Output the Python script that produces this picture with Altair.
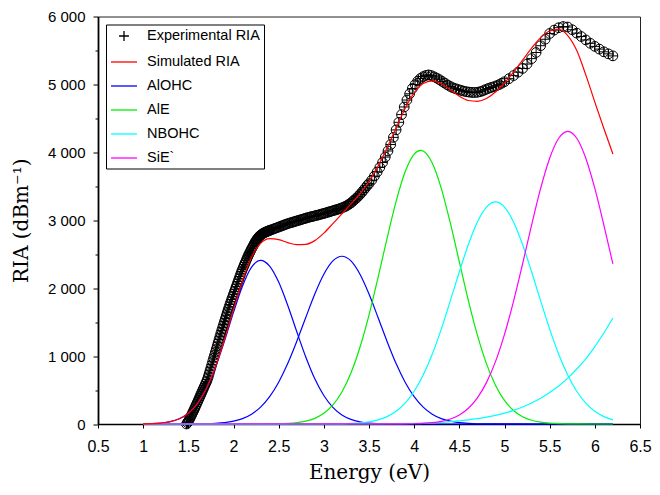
import altair as alt
import pandas as pd

# ---------------- data ----------------
exp_E = [1.48, 1.49, 1.50, 1.51, 1.52, 1.53, 1.54, 1.55, 1.56, 1.57, 1.58, 1.59,
         1.60, 1.61, 1.62, 1.63, 1.64, 1.65, 1.66, 1.67, 1.68, 1.69, 1.70, 1.71,
         1.72, 1.73, 1.74, 1.75, 1.76, 1.77, 1.78, 1.79, 1.80, 1.81, 1.82, 1.83,
         1.84, 1.85, 1.86, 1.87, 1.88, 1.89, 1.90, 1.91, 1.92, 1.93, 1.94, 1.95,
         1.96, 1.97, 1.98, 1.99, 2.00, 2.01, 2.02, 2.03, 2.04, 2.05, 2.06, 2.07,
         2.08, 2.09, 2.10, 2.11, 2.12, 2.13, 2.14, 2.15, 2.16, 2.17, 2.18, 2.19,
         2.20, 2.21, 2.22, 2.23, 2.24, 2.25, 2.26, 2.27, 2.28, 2.29, 2.30, 2.31,
         2.32, 2.33, 2.34, 2.35, 2.36, 2.37, 2.38, 2.39, 2.40,
         2.42, 2.44, 2.46, 2.48, 2.50, 2.52, 2.54, 2.56, 2.58, 2.60, 2.62, 2.64,
         2.66, 2.68, 2.70, 2.72, 2.74, 2.76, 2.78, 2.80, 2.82, 2.84, 2.86, 2.88,
         2.90, 2.92, 2.94, 2.96, 2.98, 3.00, 3.02, 3.04, 3.06, 3.08, 3.10, 3.12,
         3.14, 3.16, 3.18, 3.20, 3.22, 3.24, 3.26, 3.28, 3.30, 3.32, 3.34, 3.36,
         3.38, 3.40, 3.42, 3.44, 3.46, 3.48, 3.50,
         3.53, 3.56, 3.59, 3.62, 3.65, 3.68, 3.71, 3.74, 3.77, 3.80, 3.83, 3.86,
         3.89, 3.92, 3.95, 3.98, 4.01, 4.04, 4.07, 4.10, 4.13, 4.16, 4.19, 4.22,
         4.25, 4.28, 4.31, 4.34, 4.37, 4.40, 4.43, 4.46, 4.49, 4.52, 4.55, 4.58,
         4.61, 4.64, 4.67, 4.70, 4.73, 4.76, 4.79, 4.82, 4.85, 4.88, 4.91, 4.94,
         4.97, 5.00,
         5.05, 5.10, 5.15, 5.20, 5.25, 5.30, 5.35, 5.40, 5.45, 5.50, 5.55, 5.60,
         5.65, 5.70, 5.75, 5.80, 5.85, 5.90, 5.95, 6.00, 6.05, 6.10, 6.15, 6.20]
exp_v = [0, 20, 40, 65, 90, 118, 145, 172, 200, 230, 260, 290,
         320, 350, 380, 410, 440, 470, 500, 530, 560, 590, 620, 655,
         695, 740, 785, 830, 875, 922, 970, 1015, 1060, 1105, 1150, 1198,
         1245, 1290, 1335, 1378, 1420, 1465, 1510, 1552, 1595, 1638, 1680, 1720,
         1760, 1798, 1835, 1872, 1910, 1948, 1985, 2022, 2060, 2098, 2135, 2172,
         2210, 2245, 2280, 2312, 2345, 2378, 2410, 2440, 2470, 2498, 2525, 2552,
         2580, 2605, 2630, 2655, 2680, 2700, 2720, 2738, 2755, 2768, 2780, 2790,
         2800, 2808, 2815, 2822, 2828, 2834, 2840, 2845, 2850,
         2860, 2870, 2880, 2890, 2900, 2910, 2920, 2930, 2940, 2950, 2958, 2965,
         2974, 2982, 2990, 2998, 3006, 3014, 3022, 3030, 3038, 3045, 3052, 3058,
         3065, 3072, 3078, 3086, 3093, 3100, 3108, 3116, 3124, 3132, 3140, 3148,
         3156, 3164, 3173, 3182, 3194, 3205, 3220, 3237, 3255, 3278, 3302, 3325,
         3352, 3380, 3410, 3443, 3476, 3510, 3540,
         3590, 3650, 3710, 3778, 3850, 3930, 4020, 4115, 4220, 4330, 4442, 4555,
         4668, 4770, 4862, 4940, 4998, 5050, 5088, 5115, 5132, 5140, 5130, 5112,
         5093, 5070, 5044, 5018, 4992, 4970, 4950, 4936, 4924, 4912, 4901, 4892,
         4886, 4882, 4881, 4884, 4893, 4905, 4924, 4940, 4954, 4965, 4980, 4997,
         5018, 5040,
         5085, 5130, 5180, 5235, 5300, 5380, 5470, 5570, 5665, 5750, 5800, 5835,
         5852, 5845, 5805, 5755, 5705, 5655, 5605, 5560, 5520, 5480, 5450, 5420]

sim_E = [1.0, 1.1, 1.2, 1.3, 1.4, 1.5, 1.6, 1.7, 1.8, 1.9, 2.0, 2.1, 2.2, 2.3,
         2.4, 2.5, 2.6, 2.7, 2.8, 2.9, 3.0, 3.1, 3.2, 3.3, 3.4, 3.5, 3.6, 3.7,
         3.8, 3.9, 4.0, 4.1, 4.2, 4.3, 4.4, 4.5, 4.6, 4.7, 4.8, 4.9, 5.0, 5.1,
         5.2, 5.3, 5.4, 5.5, 5.6, 5.7, 5.8, 5.9, 6.0, 6.1, 6.2]
sim_v = [2, 5, 14, 34, 77, 158, 300, 525, 842, 1241, 1685, 2113, 2455, 2659,
         2729, 2715, 2670, 2640, 2645, 2700, 2810, 2950, 3095, 3240, 3390, 3570,
         3795, 4066, 4360, 4645, 4874, 5012, 5051, 5010, 4921, 4826, 4763, 4751,
         4792, 4888, 5021, 5180, 5357, 5534, 5687, 5787, 5810, 5720, 5500, 5140,
         4740, 4350, 3976]

aloh1_E = [1.0, 1.1, 1.2, 1.3, 1.4, 1.5, 1.6, 1.7, 1.8, 1.9, 2.0, 2.1, 2.2, 2.3,
           2.4, 2.5, 2.6, 2.7, 2.8, 2.9, 3.0, 3.1, 3.2, 3.3, 3.4, 3.5, 3.6, 3.7,
           3.8, 6.2]
aloh1_v = [2, 5, 14, 34, 77, 158, 300, 521, 832, 1220, 1643, 2033, 2310, 2410,
           2325, 2089, 1748, 1361, 987, 666, 419, 245, 134, 68, 32, 14, 6, 2,
           0, 0]

aloh2_E = [1.0, 1.6, 1.7, 1.8, 1.9, 2.0, 2.1, 2.2, 2.3, 2.4, 2.5, 2.6, 2.7, 2.8,
           2.9, 3.0, 3.1, 3.2, 3.3, 3.4, 3.5, 3.6, 3.7, 3.8, 3.9, 4.0, 4.1, 4.2,
           4.3, 4.4, 4.5, 4.6, 4.7, 4.8, 6.2]
aloh2_v = [0, 1, 4, 10, 21, 42, 80, 145, 249, 403, 616, 890, 1216, 1569,
           1914, 2205, 2401, 2470, 2401, 2205, 1914, 1569, 1216, 890, 616, 403, 249, 145,
           80, 42, 21, 10, 4, 1, 0]

ale_E = [1.0, 2.3, 2.4, 2.5, 2.6, 2.7, 2.8, 2.9, 3.0, 3.1, 3.2, 3.3, 3.4, 3.5,
         3.6, 3.7, 3.8, 3.9, 4.0, 4.07, 4.1, 4.2, 4.3, 4.4, 4.5, 4.6, 4.7, 4.8,
         4.9, 5.0, 5.1, 5.2, 5.3, 5.4, 5.5, 5.6, 5.7, 5.8, 6.2]
ale_v = [0, 0, 1, 4, 9, 20, 42, 83, 157, 280, 472, 750, 1130, 1604,
         2156, 2734, 3277, 3713, 3975, 4030, 4020, 3842, 3470, 2960, 2386, 1818, 1309, 889,
         572, 347, 199, 108, 55, 27, 12, 5, 2, 1, 0]

nbohc1_E = [1.0, 3.1, 3.2, 3.3, 3.4, 3.5, 3.6, 3.7, 3.8, 3.9, 4.0, 4.1, 4.2, 4.3,
            4.4, 4.5, 4.6, 4.7, 4.8, 4.9, 5.0, 5.1, 5.2, 5.3, 5.4, 5.5, 5.6, 5.7,
            5.8, 5.9, 6.0, 6.1, 6.2]
nbohc1_v = [0, 1, 3, 8, 16, 32, 60, 109, 187, 308, 482, 721, 1027, 1397,
            1812, 2241, 2643, 2975, 3194, 3270, 3194, 2975, 2643, 2241, 1812, 1397, 1027, 721,
            482, 308, 187, 109, 60]

nbohc2_E = [1.0, 3.5, 3.8, 4.0, 4.1, 4.2, 4.3, 4.4, 4.5, 4.6, 4.7, 4.8, 4.9, 5.0,
            5.1, 5.2, 5.3, 5.4, 5.5, 5.6, 5.7, 5.8, 5.9, 6.0, 6.1, 6.2]
nbohc2_v = [0, 3, 6, 10, 13, 18, 25, 34, 45, 60, 78, 100, 128, 160,
            200, 250, 310, 380, 465, 560, 675, 810, 960, 1140, 1340, 1560]

sie_E = [1.0, 3.9, 4.0, 4.1, 4.2, 4.3, 4.4, 4.5, 4.6, 4.7, 4.8, 4.9, 5.0, 5.1,
         5.2, 5.3, 5.4, 5.5, 5.6, 5.7, 5.8, 5.9, 6.0, 6.1, 6.2]
sie_v = [0, 1, 4, 9, 19, 38, 73, 133, 232, 385, 609, 918, 1320, 1806,
         2356, 2928, 3468, 3913, 4207, 4310, 4207, 3913, 3468, 2928, 2356]

series_names = ["Experimental RIA", "Simulated RIA", "AlOHC", "AlE", "NBOHC", "SiE`"]
series_colors = ["#000000", "#ff0000", "#0000ff", "#00ee00", "#00ffff", "#ff00ff"]

# ---------------- tables ----------------
def frame(E, v, series, curve):
    return pd.DataFrame({"E": E, "v": v, "series": series, "curve": curve})

comp_df = pd.concat([
    frame(aloh1_E, aloh1_v, "AlOHC", "a1"),
    frame(aloh2_E, aloh2_v, "AlOHC", "a2"),
    frame(ale_E, ale_v, "AlE", "e1"),
    frame(nbohc1_E, nbohc1_v, "NBOHC", "n1"),
    frame(nbohc2_E, nbohc2_v, "NBOHC", "n2"),
    frame(sie_E, sie_v, "SiE`", "s1"),
], ignore_index=True)
sim_df = frame(sim_E, sim_v, "Simulated RIA", "r")
exp_df = frame(exp_E, exp_v, "Experimental RIA", "x")
legend_df = pd.DataFrame({"E": [0.0] * len(series_names), "v": [0] * len(series_names),
                          "series": series_names})

# ---------------- encodings ----------------
x_axis = alt.Axis(
    values=[0.5, 1, 1.5, 2, 2.5, 3, 3.5, 4, 4.5, 5, 5.5, 6, 6.5],
    format=".1~f", title="Energy (eV)", grid=False,
    titleFont="DejaVu Serif", titleFontSize=20, titleFontWeight="normal",
    titleColor="black", titlePadding=8,
    labelFont="Liberation Sans", labelFontSize=16, labelColor="black",
    labelPadding=10, labelFlush=False, labelOverlap=False,
    tickSize=4, tickColor="black", domainColor="black",
    domainWidth=1.5, tickWidth=1,
)
y_axis = alt.Axis(
    values=list(range(0, 6001, 500)),
    labelExpr="datum.value % 1000 == 0 ? replace(format(datum.value, ','), ',', ' ') : ''",
    title="RIA  (dBm⁻¹)", grid=False,
    titleFont="DejaVu Serif", titleFontSize=20, titleFontWeight="normal",
    titleColor="black", titlePadding=16,
    labelFont="Liberation Sans", labelFontSize=15, labelColor="black",
    labelPadding=8, labelFlush=False, labelOverlap=False,
    tickSize={"condition": {"test": "datum.value % 1000 != 0", "value": 3}, "value": 5},
    tickColor="black", domainColor="black", domainWidth=1.8, tickWidth=1,
)
x_enc = alt.X("E:Q", scale=alt.Scale(domain=[0.5, 6.5], nice=False, zero=False), axis=x_axis)
y_enc = alt.Y("v:Q", scale=alt.Scale(domain=[0, 6000], nice=False, zero=False), axis=y_axis)

color_scale = alt.Scale(domain=series_names, range=series_colors)
# legend glyphs: a "+" for the measured points, a short line for each curve
shape_scale = alt.Scale(
    domain=series_names,
    range=["M0.24,0L1.76,0M1,-0.76L1,0.76"] + ["M-1,0L3,0"] * 5,
)
legend = alt.Legend(
    title=None, orient="none", legendX=8, legendY=8,
    strokeColor="black", fillColor="white", padding=4,
    labelFont="Liberation Sans", labelFontSize=14.5, labelColor="black",
    symbolSize=169, symbolStrokeWidth=1.3, labelOffset=22, rowPadding=9,
)

legend_layer = alt.Chart(legend_df).mark_point(
    filled=False, opacity=1, strokeWidth=1.3, clip=True
).encode(
    x=x_enc, y=y_enc,
    color=alt.Color("series:N", scale=color_scale, legend=legend),
    shape=alt.Shape("series:N", scale=shape_scale, legend=legend),
)

circles = alt.Chart(exp_df).mark_point(
    shape="circle", size=95, filled=False, color="black", strokeWidth=1, opacity=1
).encode(x=x_enc, y=y_enc)

pluses = alt.Chart(exp_df).mark_point(
    shape="M-1,0L1,0M0,-1L0,1", size=100, filled=False, color="black",
    strokeWidth=1, opacity=1
).encode(x=x_enc, y=y_enc)

components = alt.Chart(comp_df).mark_line(strokeWidth=1.2, interpolate="monotone").encode(
    x=x_enc, y=y_enc,
    color=alt.Color("series:N", scale=color_scale, legend=None),
    detail="curve:N",
)

simulated = alt.Chart(sim_df).mark_line(strokeWidth=1.2, interpolate="monotone").encode(
    x=x_enc, y=y_enc,
    color=alt.Color("series:N", scale=color_scale, legend=None),
)

chart = alt.layer(legend_layer, circles, pluses, components, simulated).properties(
    width=644, height=479,
    autosize=alt.AutoSizeParams(type="fit", contains="padding"),
    padding={"left": 3, "top": 1.5, "right": 0, "bottom": 5},
    background="white",
).configure_view(stroke="#222222", strokeWidth=1)

chart.save("out.html", embed_options={"renderer": "svg", "actions": False})
